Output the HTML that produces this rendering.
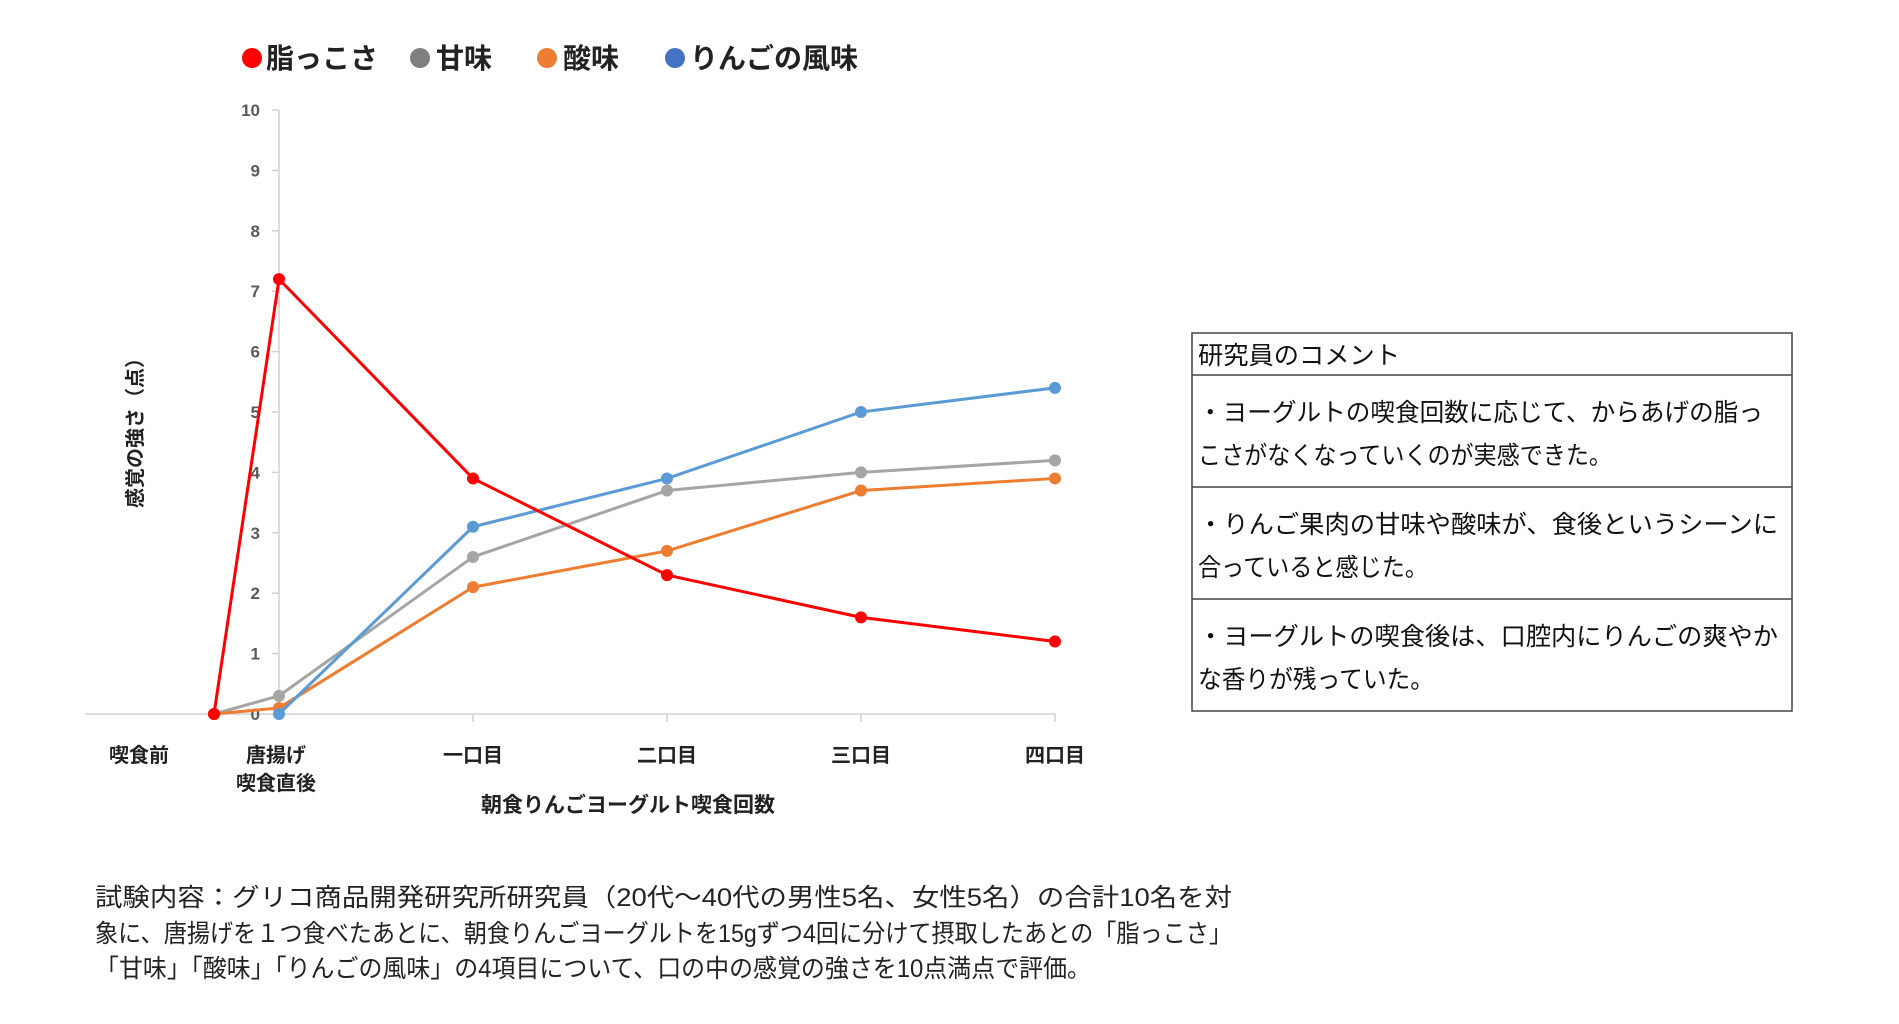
<!DOCTYPE html>
<html><head><meta charset="utf-8"><style>
body{margin:0;background:#fff;}
svg{display:block;font-family:"Liberation Sans","Noto Sans CJK JP",sans-serif;}
</style></head><body>
<svg id="chart" width="1899" height="1024" viewBox="0 0 1899 1024">
<g id="legend" font-weight="bold" font-size="28" fill="#222">
 <g><circle cx="252" cy="58" r="10" fill="#FF0000"/><text x="266" y="68">脂っこさ</text></g>
 <g><circle cx="420" cy="58" r="10" fill="#7F7F7F"/><text x="436" y="68">甘味</text></g>
 <g><circle cx="547" cy="58" r="10" fill="#ED7D31"/><text x="563" y="68">酸味</text></g>
 <g><circle cx="675" cy="58" r="10" fill="#4472C4"/><text x="690" y="68">りんごの風味</text></g>
</g>
<g id="axes"></g>
<g id="series"></g>
<text transform="translate(142,428) rotate(-90)" text-anchor="middle" font-size="20" font-weight="bold" fill="#222">感覚の強さ（点）</text>
<text x="628" y="812" text-anchor="middle" font-size="21" font-weight="bold" fill="#222">朝食りんごヨーグルト喫食回数</text>
<g font-size="25" fill="#111">
 <rect x="1192" y="333" width="600" height="378" fill="none" stroke="#444" stroke-width="1.5"/>
 <line x1="1192" y1="375" x2="1792" y2="375" stroke="#444" stroke-width="1.5"/>
 <line x1="1192" y1="487" x2="1792" y2="487" stroke="#444" stroke-width="1.5"/>
 <line x1="1192" y1="599" x2="1792" y2="599" stroke="#444" stroke-width="1.5"/>
 <text x="1198" y="364" textLength="202" lengthAdjust="spacingAndGlyphs">研究員のコメント</text>
 <text x="1198" y="421" textLength="565" lengthAdjust="spacingAndGlyphs">・ヨーグルトの喫食回数に応じて、からあげの脂っ</text>
 <text x="1198" y="464" textLength="414" lengthAdjust="spacingAndGlyphs">こさがなくなっていくのが実感できた。</text>
 <text x="1198" y="533" textLength="580" lengthAdjust="spacingAndGlyphs">・りんご果肉の甘味や酸味が、食後というシーンに</text>
 <text x="1198" y="576" textLength="230" lengthAdjust="spacingAndGlyphs">合っていると感じた。</text>
 <text x="1198" y="645" textLength="580" lengthAdjust="spacingAndGlyphs">・ヨーグルトの喫食後は、口腔内にりんごの爽やか</text>
 <text x="1198" y="688" textLength="236" lengthAdjust="spacingAndGlyphs">な香りが残っていた。</text>
</g>
<g font-size="25" fill="#222">
 <text x="95" y="906" textLength="1137" lengthAdjust="spacingAndGlyphs">試験内容：グリコ商品開発研究所研究員（20代～40代の男性5名、女性5名）の合計10名を対</text>
 <text x="95" y="942" textLength="1137" lengthAdjust="spacingAndGlyphs">象に、唐揚げを１つ食べたあとに、朝食りんごヨーグルトを15gずつ4回に分けて摂取したあとの「脂っこさ」</text>
 <text x="95" y="977" textLength="996" lengthAdjust="spacingAndGlyphs">「甘味」「酸味」「りんごの風味」の4項目について、口の中の感覚の強さを10点満点で評価。</text>
</g>
</svg>
<script>
const categories = ["喫食前","唐揚げ\n喫食直後","一口目","二口目","三口目","四口目"];
const fatValues = [0, 7.2, 3.9, 2.3, 1.6, 1.2];
const sweetValues = [0, 0.3, 2.6, 3.7, 4.0, 4.2];
const sourValues = [0, 0.1, 2.1, 2.7, 3.7, 3.9];
const appleValues = [null, 0, 3.1, 3.9, 5.0, 5.4];
const yTicks = [0,1,2,3,4,5,6,7,8,9,10];

const NS = "http://www.w3.org/2000/svg";
function yScale(v){ return 714 - v * 60.4; }
function xScale(i){ return i === 0 ? 214 : 279 + (i - 1) * 194; }
function mk(tag, attrs, parent){ const e = document.createElementNS(NS, tag); for (const k in attrs) e.setAttribute(k, attrs[k]); parent.appendChild(e); return e; }

const axes = document.getElementById("axes");
const yAxis = mk("line", {x1:279, y1:yScale(10), x2:279, y2:yScale(0), stroke:"#d0d0d0", "stroke-width":1.5}, axes);


const xAxis = mk("line", {x1:85, y1:yScale(0), x2:1055, y2:yScale(0), stroke:"#d0d0d0", "stroke-width":1.5}, axes);


yTicks.forEach(t => {
  mk("line", {x1:272, y1:yScale(t), x2:279, y2:yScale(t), stroke:"#d0d0d0", "stroke-width":1.5}, axes);
  const lbl = mk("text", {x:260, y:yScale(t)+6, "text-anchor":"end", "font-size":17, "font-weight":"bold", fill:"#595959"}, axes);
  lbl.textContent = t;
  
  
});
const labelX = [139, 276, 473, 667, 861, 1055];
categories.forEach((c, i) => {
  if (i >= 2) mk("line", {x1:xScale(i), y1:yScale(0), x2:xScale(i), y2:yScale(0)+8, stroke:"#d0d0d0", "stroke-width":1.5}, axes);
  c.split("\n").forEach((ln, j) => {
    const t = mk("text", {x:labelX[i], y:762 + j*28, "text-anchor":"middle", "font-size":20, "font-weight":"bold", fill:"#222"}, axes);
    t.textContent = ln;
    
    
  });
});

const seriesG = document.getElementById("series");
function drawSeries(vals, color, name){
  const g = mk("g", {}, seriesG);
  
  
  const pts = [];
  vals.forEach((v, i) => { if (v !== null) pts.push([xScale(i), yScale(v)]); });
  const pl = mk("polyline", {points: pts.map(p => p.join(",")).join(" "), fill:"none", stroke:color, "stroke-width":3, "stroke-linejoin":"round"}, g);
  
  
  pts.forEach(p => {
    const c = mk("circle", {cx:p[0], cy:p[1], r:6, fill:color}, g);
    
    
  });
}
drawSeries(sweetValues, "#A5A5A5", "sweet-series");
drawSeries(sourValues, "#ED7D31", "sour-series");
drawSeries(appleValues, "#5B9BD5", "apple-series");
drawSeries(fatValues, "#FF0000", "fat-series");
</script>
</body></html>
